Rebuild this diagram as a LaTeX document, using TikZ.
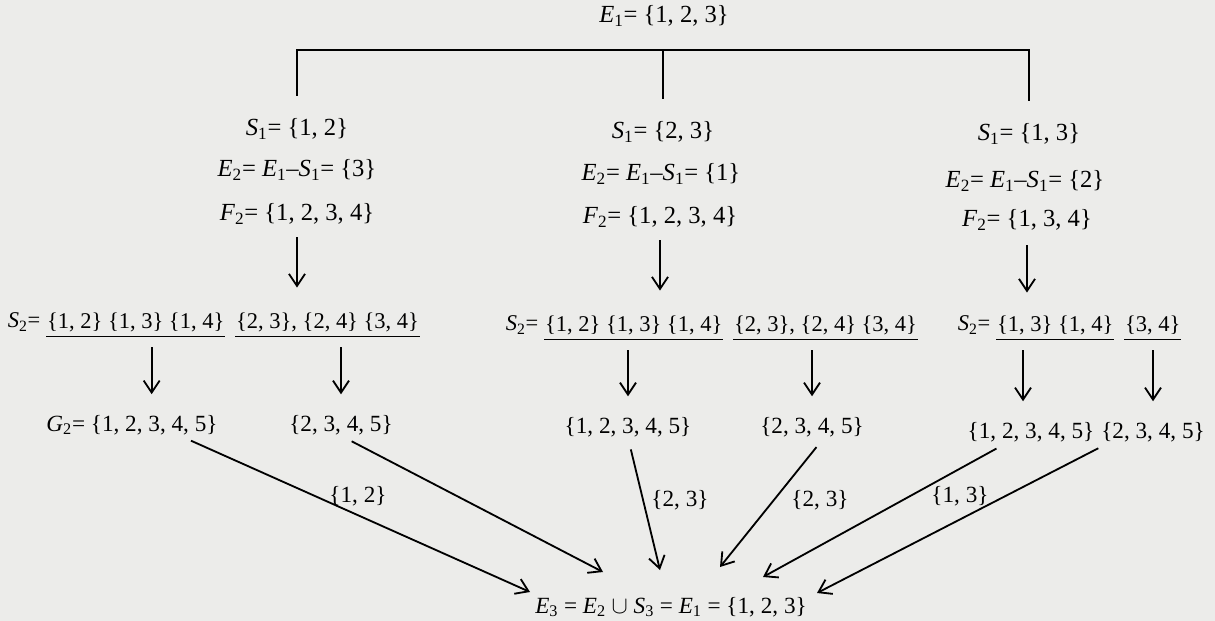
\documentclass[tikz,border=0pt]{standalone}
\usepackage{fontspec}
\setmainfont{Liberation Serif}
\usetikzlibrary{arrows.meta,positioning}
\definecolor{paper}{RGB}{236,236,234}
\newcommand{\vx}[2]{\textit{#1}\textsubscript{#2}}

\begin{document}
\begin{tikzpicture}[x=.25mm,y=-.25mm,line width=1.3pt,
  txt/.style={inner sep=0pt,font=\fontsize{16.5}{20}\selectfont},
  big/.style={inner sep=0pt,font=\fontsize{17.5}{21}\selectfont},
  lbl/.style={inner sep=0pt,font=\fontsize{16}{19}\selectfont},
  grp/.style={inner xsep=0pt,inner ysep=1mm,font=\fontsize{16}{19}\selectfont},
  arr/.style={-{Straight Barb[length=3mm,width=4mm]}},
  fall/.style={arr,shorten <=2.75mm,shorten >=5mm},
  merge/.style={arr,shorten <=3mm},
  uline/.style={line width=1pt}]
\path[use as bounding box] (0,0) rectangle (1215,621);
\fill[paper] (0,0) rectangle (1215,621);
% first choice
\node[big] (e1) at (664,16) {\vx{E}{1}= \{1, 2, 3\}};
\coordinate (fork) at (663,50);
\node[big] (s1a) at (297,129) {\vx{S}{1}= \{1, 2\}};
\node[big] (s1b) at (663,132) {\vx{S}{1}= \{2, 3\}};
\node[big] (s1c) at (1029,134) {\vx{S}{1}= \{1, 3\}};
\draw[shorten <=5.5mm,shorten >=5.5mm] (s1a.north) |- (fork) -| (s1c.north);
\draw[shorten <=5.5mm] (s1b.north) -- (s1b.north |- fork);
\node[big] (e2a) at (297,170) {\vx{E}{2}= \vx{E}{1}--\vx{S}{1}= \{3\}};
\node[big] (e2b) at (661,174) {\vx{E}{2}= \vx{E}{1}--\vx{S}{1}= \{1\}};
\node[big] (e2c) at (1025,181) {\vx{E}{2}= \vx{E}{1}--\vx{S}{1}= \{2\}};
\node[big] (f2a) at (297,214) {\vx{F}{2}= \{1, 2, 3, 4\}};
\node[big] (f2b) at (660,217) {\vx{F}{2}= \{1, 2, 3, 4\}};
\node[big] (f2c) at (1027,220) {\vx{F}{2}= \{1, 3, 4\}};
% second choice
\node[lbl,anchor=west] (s2a) at (7,322) {\vx{S}{2}=};
\node[grp,right=1.2mm of s2a] (ga1) {\{1, 2\} \{1, 3\} \{1, 4\}};
\node[grp,right=2.5mm of ga1] (ga2) {\{2, 3\}, \{2, 4\} \{3, 4\}};
\node[lbl,anchor=west] (s2b) at (505,325) {\vx{S}{2}=};
\node[grp,right=1.2mm of s2b] (gb1) {\{1, 2\} \{1, 3\} \{1, 4\}};
\node[grp,right=2.5mm of gb1] (gb2) {\{2, 3\}, \{2, 4\} \{3, 4\}};
\node[lbl,anchor=west] (s2c) at (957,325) {\vx{S}{2}=};
\node[grp,right=1.2mm of s2c] (gc1) {\{1, 3\} \{1, 4\}};
\node[grp,right=2.5mm of gc1] (gc2) {\{3, 4\}};
\draw[arr,shorten <=3mm,shorten >=5mm] (f2a.south) -- (f2a.south |- ga2.north);
\draw[arr,shorten <=3mm,shorten >=5mm] (f2b.south) -- (f2b.south |- gb1.north);
\draw[arr,shorten <=3.5mm,shorten >=4.5mm] (f2c.south) -- (f2c.south |- gc1.north);
\foreach \g in {ga1,ga2,gb1,gb2,gc1,gc2}
  \draw[uline] (\g.south west) -- (\g.south east);
% third choice
\node[txt] (g2) at (132,425) {\vx{G}{2}= \{1, 2, 3, 4, 5\}};
\node[txt] (ra2) at (341,425) {\{2, 3, 4, 5\}};
\node[txt] (rb1) at (628,427) {\{1, 2, 3, 4, 5\}};
\node[txt] (rb2) at (812,427) {\{2, 3, 4, 5\}};
\node[txt] (rc1) at (1031,432) {\{1, 2, 3, 4, 5\}};
\node[txt] (rc2) at (1153,432) {\{2, 3, 4, 5\}};
\draw[fall] ([xshift=4mm]ga1.south) -- ([xshift=4mm]ga1.south |- g2.north);
\draw[fall] (ra2.north |- ga2.south) -- (ra2.north);
\draw[fall] (rb1.north |- gb1.south) -- (rb1.north);
\draw[fall] (rb2.north |- gb2.south) -- (rb2.north);
\draw[fall] ([xshift=-2mm]rc1.north |- gc1.south) -- ([xshift=-2mm]rc1.north);
\draw[fall] (rc2.north |- gc2.south) -- (rc2.north);
% back to E3
\node[txt] (e3) at (671,607) {\vx{E}{3} = \vx{E}{2} $\cup$ \vx{S}{3} = \vx{E}{1} = \{1, 2, 3\}};
\coordinate (t1) at (530,592);
\coordinate (t2) at (603,572);
\coordinate (t3) at (660,570);
\coordinate (t4) at (720,567);
\coordinate (t5) at (763,577);
\coordinate (t6) at (817,593);
\draw[merge] ([xshift=12mm]g2.south) -- (t1);
\draw[merge] (ra2.south) -- (t2);
\draw[merge] (rb1.south) -- (t3);
\draw[merge] ([xshift=3mm]rb2.south) -- (t4);
\draw[merge] ([xshift=-6mm]rc1.south) -- (t5);
\draw[merge] ([xshift=-11mm]rc2.south) -- (t6);
\node[txt] (la) at (358,496) {\{1, 2\}};
\node[txt] (lb) at (680,500) {\{2, 3\}};
\node[txt] (lc) at (820,500) {\{2, 3\}};
\node[txt] (ld) at (960,496) {\{1, 3\}};
\end{tikzpicture}
\end{document}
